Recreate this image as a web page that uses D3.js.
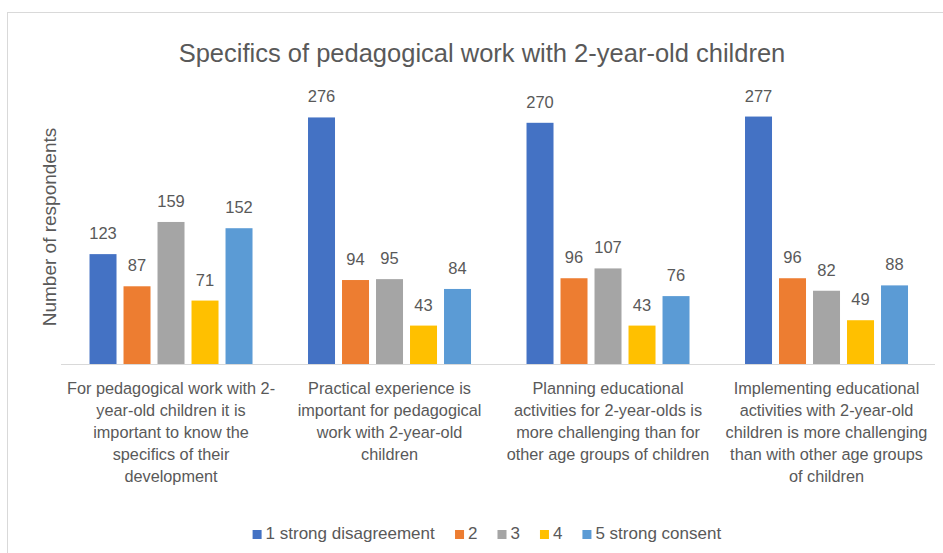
<!DOCTYPE html>
<html>
<head>
<meta charset="utf-8">
<script src="https://cdn.jsdelivr.net/npm/d3@7/dist/d3.min.js"></script>
<style>
  html, body { margin: 0; padding: 0; background: #fff; }
  svg { display: block; font-family: "Liberation Sans", Arial, sans-serif; }
</style>
</head>
<body>
<svg id="chart" width="943" height="553"></svg>
<script>
// Survey answers per statement, one array per Likert level
const categoryLines = [
  ["For pedagogical work with 2-", "year-old children it is", "important to know the", "specifics of their", "development"],
  ["Practical experience is", "important for pedagogical", "work with 2-year-old", "children"],
  ["Planning educational", "activities for 2-year-olds is", "more challenging than for", "other age groups of children"],
  ["Implementing educational", "activities with 2-year-old", "children is more challenging", "than with other age groups", "of children"]
];
const seriesNames = ["1 strong disagreement", "2", "3", "4", "5 strong consent"];
const level1 = [123, 276, 270, 277];
const level2 = [87, 94, 96, 96];
const level3 = [159, 95, 107, 82];
const level4 = [71, 43, 43, 49];
const level5 = [152, 84, 76, 88];
const seriesColors = ["#4472C4", "#ED7D31", "#A5A5A5", "#FFC000", "#5B9BD5"];
const titleText = "Specifics of pedagogical work with 2-year-old children";
const yAxisTitle = "Number of respondents";

const seriesValues = [level1, level2, level3, level4, level5];

const svg = d3.select("#chart");
const textColor = "#595959";

// chart frame
svg.append("rect")
  .attr("x", 7.5).attr("y", 12.5)
  .attr("width", 960).attr("height", 560)
  .attr("fill", "#fff").attr("stroke", "#d9d9d9");

const plot = { left: 61, right: 935, top: 96, bottom: 364 };

const x0 = d3.scaleBand()
  .domain(d3.range(categoryLines.length))
  .range([plot.left, plot.right]);

const bw = x0.bandwidth();
const x1 = d3.scaleBand()
  .domain(d3.range(seriesNames.length))
  .range([bw * 0.1305, bw * 0.8765])
  .paddingInner(0.206)
  .paddingOuter(0);

const y = d3.scaleLinear().domain([0, 300]).range([plot.bottom, plot.top]);

// title
svg.append("text")
  .attr("x", 482).attr("y", 62)
  .attr("text-anchor", "middle")
  .attr("font-size", 25.5)
  .attr("fill", textColor)
  .text(titleText);

// y axis title
svg.append("text")
  .attr("transform", "translate(49,227) rotate(-90)")
  .attr("text-anchor", "middle")
  .attr("dominant-baseline", "central")
  .attr("font-size", 19)
  .attr("fill", textColor)
  .text(yAxisTitle);

// baseline
svg.append("line")
  .attr("x1", plot.left).attr("x2", plot.right)
  .attr("y1", y(0) + 0.5).attr("y2", y(0) + 0.5)
  .attr("stroke", "#d9d9d9").attr("stroke-width", 1);

// bars and value labels
const groups = svg.append("g").selectAll("g")
  .data(d3.range(categoryLines.length))
  .join("g")
  .attr("transform", c => `translate(${x0(c)},0)`);

groups.selectAll("rect")
  .data(c => seriesValues.map((vals, s) => ({ s, v: vals[c] })))
  .join("rect")
  .attr("x", d => x1(d.s))
  .attr("width", x1.bandwidth())
  .attr("y", d => y(d.v))
  .attr("height", d => y(0) - y(d.v))
  .attr("fill", d => seriesColors[d.s]);

groups.selectAll("text.val")
  .data(c => seriesValues.map((vals, s) => ({ s, v: vals[c] })))
  .join("text")
  .attr("class", "val")
  .attr("x", d => x1(d.s) + x1.bandwidth() / 2)
  .attr("y", d => y(d.v) - 15)
  .attr("text-anchor", "middle")
  .attr("font-size", 16.5)
  .attr("fill", textColor)
  .text(d => d.v);

// category labels
const catLabels = svg.append("g").selectAll("text")
  .data(categoryLines)
  .join("text")
  .attr("text-anchor", "middle")
  .attr("font-size", 16.3)
  .attr("fill", textColor);

catLabels.selectAll("tspan")
  .data((lines, c) => lines.map(line => ({ line, c })))
  .join("tspan")
  .attr("x", d => x0(d.c) + x1(0) + (x1(4) + x1.bandwidth() - x1(0)) / 2)
  .attr("y", (d, i) => 394 + i * 22)
  .text(d => d.line);

// legend
const legend = svg.append("g");
const legendFont = 17;
const items = legend.selectAll("g")
  .data(seriesNames)
  .join("g");
items.append("rect")
  .attr("width", 9).attr("height", 9)
  .attr("y", -9)
  .attr("fill", (d, i) => seriesColors[i]);
items.append("text")
  .attr("x", 13)
  .attr("font-size", legendFont)
  .attr("fill", textColor)
  .text(d => d);

let offset = 0;
const positions = [];
items.each(function () {
  positions.push(offset);
  offset += this.getBBox().width + 20;
});
const legendWidth = offset - 20;
const legendLeft = 487 - legendWidth / 2;
items.attr("transform", (d, i) => `translate(${legendLeft + positions[i]},539)`);
</script>
</body>
</html>
